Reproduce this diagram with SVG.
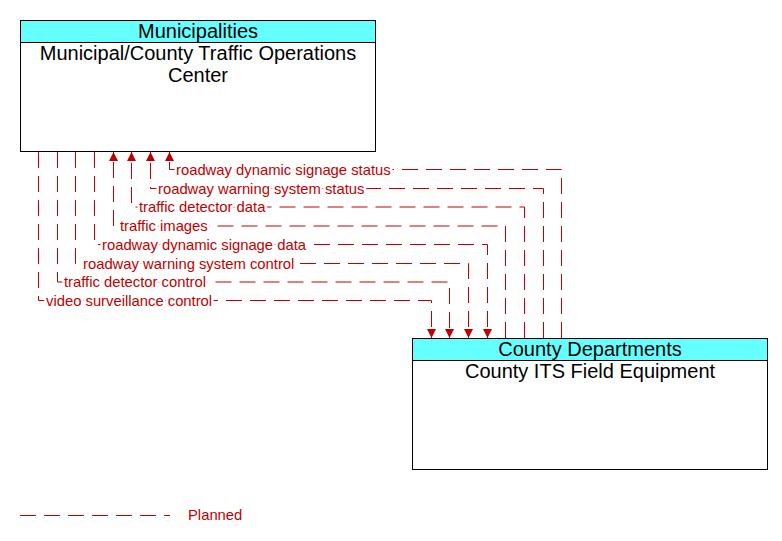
<svg xmlns="http://www.w3.org/2000/svg" width="782" height="541" viewBox="0 0 782 541">
<style>
.box{fill:#fff;stroke:#000;stroke-width:1}
.hdr{fill:#66ffff;stroke:#000;stroke-width:1}
.t{font-family:"Liberation Sans",Arial,sans-serif;fill:#000;text-anchor:middle;font-size:20px}
.flow{fill:none;stroke:#c00000;stroke-width:1;stroke-dasharray:16 8}
.lbl{font-family:"Liberation Sans",Arial,sans-serif;font-size:14.8px;fill:#c00000;stroke:#fff;stroke-width:5;paint-order:stroke;stroke-linejoin:round}
.leg{font-family:"Liberation Sans",Arial,sans-serif;font-size:14.8px;fill:#c00000}
</style>
<defs>
<marker id="ah" viewBox="0 0 10 10" refX="10" refY="5" markerWidth="9" markerHeight="9" markerUnits="userSpaceOnUse" orient="auto">
<path d="M0,0 L10,5 L0,10 z" fill="#c00000"/>
</marker>
</defs>
<g id="node-tmc">
<rect class="box" x="20.5" y="20.5" width="355" height="131"/>
<rect class="hdr" x="20.5" y="20.5" width="355" height="22"/>
<text class="t" x="198" y="38">Municipalities</text>
<text class="t" x="198" y="60">Municipal/County Traffic Operations</text>
<text class="t" x="198" y="82">Center</text>
</g>
<g id="node-field">
<rect class="box" x="412.5" y="338.5" width="355" height="131"/>
<rect class="hdr" x="412.5" y="338.5" width="355" height="22"/>
<text class="t" x="590" y="356">County Departments</text>
<text class="t" x="590" y="378">County ITS Field Equipment</text>
</g>
<g id="connectors">
<path class="flow" d="M561.5,338 V169.5 H169.5 V152" marker-end="url(#ah)"/>
<path class="flow" d="M543.5,338 V188.5 H150.5 V152" marker-end="url(#ah)"/>
<path class="flow" d="M524.5,338 V207 H131.5 V152" marker-end="url(#ah)"/>
<path class="flow" d="M505.5,338 V226 H113.5 V152" marker-end="url(#ah)"/>
<path class="flow" d="M94.5,152 V244.5 H487.5 V338" marker-end="url(#ah)"/>
<path class="flow" d="M75.5,152 V263.5 H468.5 V338" marker-end="url(#ah)"/>
<path class="flow" d="M57.5,152 V282 H449.5 V338" marker-end="url(#ah)"/>
<path class="flow" d="M38.5,152 V300.5 H431.5 V338" marker-end="url(#ah)"/>
<text class="lbl" x="176" y="174.5">roadway dynamic signage status</text>
<text class="lbl" x="158" y="193.5">roadway warning system status</text>
<text class="lbl" x="139" y="212">traffic detector data</text>
<text class="lbl" x="120" y="231">traffic images</text>
<text class="lbl" x="102" y="249.5">roadway dynamic signage data</text>
<text class="lbl" x="83" y="268.5">roadway warning system control</text>
<text class="lbl" x="64" y="287">traffic detector control</text>
<text class="lbl" x="46" y="305.5">video surveillance control</text>
</g>
<g id="legend">
<line class="flow" x1="20" y1="515.5" x2="170" y2="515.5"/>
<text class="leg" x="188" y="520">Planned</text>
</g>
</svg>
